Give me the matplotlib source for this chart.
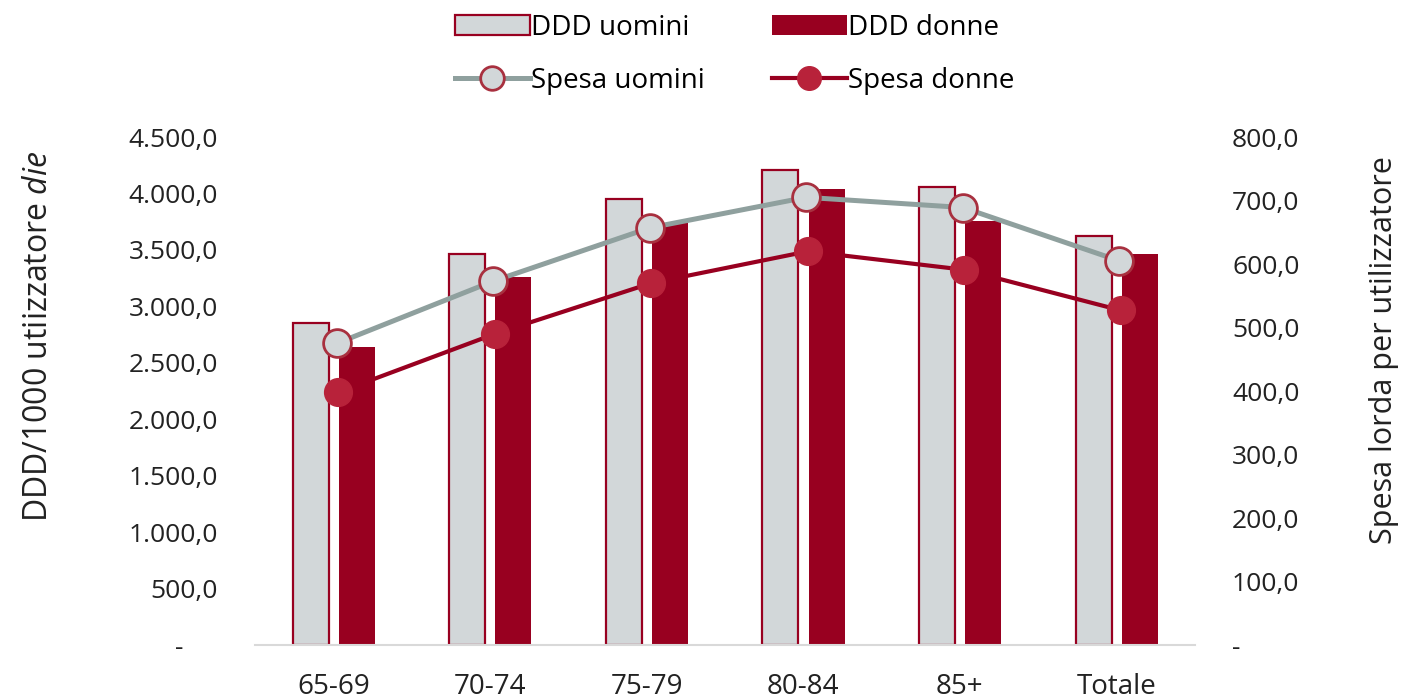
import numpy as np
import matplotlib.pyplot as plt
from matplotlib.ticker import FuncFormatter

plt.rcParams['font.family'] = ['Open Sans', 'DejaVu Sans']
plt.rcParams['mathtext.fontset'] = 'custom'
plt.rcParams['mathtext.rm'] = 'Open Sans'
plt.rcParams['mathtext.it'] = 'Open Sans:italic'

categories = ['65-69', '70-74', '75-79', '80-84', '85+', 'Totale']
ddd_uomini = [2850, 3460, 3950, 4210, 4060, 3620]
ddd_donne = [2640, 3260, 3740, 4040, 3760, 3460]
spesa_uomini = [475, 573, 657, 705, 689, 605]
spesa_donne = [398, 490, 570, 620, 591, 527]

dark_red = '#980020'
light_grey = '#D2D7D9'
line_grey = '#8FA09E'

fig = plt.figure(figsize=(14.02, 6.99), dpi=100)
ax = fig.add_axes([0.182, 0.077, 0.670, 0.727])
ax2 = ax.twinx()

x = np.arange(len(categories))
w = 0.23
b1 = ax.bar(x - 0.145, ddd_uomini, w, color=light_grey, edgecolor=dark_red,
            linewidth=1.6, label='DDD uomini')
b2 = ax.bar(x + 0.15, ddd_donne, w, color=dark_red, label='DDD donne')

l1, = ax2.plot(x + 0.02, spesa_uomini, '-o', color=line_grey, lw=3.6,
               markersize=20, markerfacecolor=light_grey,
               markeredgecolor='#A8303F', markeredgewidth=2,
               label='Spesa uomini', zorder=4)
l2, = ax2.plot(x + 0.03, spesa_donne, '-o', color=dark_red, lw=3,
               markersize=20, markerfacecolor='#B8223A',
               markeredgecolor='#B8223A', label='Spesa donne', zorder=3)

ax.set_xlim(-0.5, 5.5)
ax.set_ylim(0, 4500)
ax2.set_ylim(0, 800)
ax.set_yticks(np.arange(0, 4501, 500))
ax2.set_yticks(np.arange(0, 801, 100))


def it_fmt(v, pos):
    if v == 0:
        return '-     '
    s = '{:,.1f}'.format(v)
    return s.replace(',', 'X').replace('.', ',').replace('X', '.')


def it_fmt2(v, pos):
    if v == 0:
        return '-'
    return '{:.1f}'.format(v).replace('.', ',')


ax.yaxis.set_major_formatter(FuncFormatter(it_fmt))
ax2.yaxis.set_major_formatter(FuncFormatter(it_fmt2))
ax.set_xticks(x)
ax.set_xticklabels(categories)

for a in (ax, ax2):
    for s in a.spines.values():
        s.set_visible(False)
    a.tick_params(length=0, labelsize=19, colors='#222222')
ax.spines['bottom'].set_visible(True)
ax.spines['bottom'].set_color('#D9D9D9')
ax.spines['bottom'].set_linewidth(1.5)
ax.tick_params(axis='y', pad=27)
ax2.tick_params(axis='y', pad=27)
ax.tick_params(axis='x', pad=20, labelsize=20)

ax.set_ylabel('DDD/1000 utiizzatore $\\mathit{die}$', fontsize=23, color='#222222')
ax.yaxis.set_label_coords(-0.213, 0.607)
ax2.set_ylabel('Spesa lorda per utilizzatore', fontsize=22, color='#222222',
               rotation=90)
ax2.yaxis.set_label_coords(1.186, 0.581)

fig.legend([b1, l1, b2, l2],
           ['DDD uomini', 'Spesa uomini', 'DDD donne', 'Spesa donne'],
           ncol=2, loc='upper center', bbox_to_anchor=(0.524, 1.016),
           frameon=False, fontsize=20, handlelength=2.7, handletextpad=0.05,
           columnspacing=2.4, labelspacing=0.9, markerscale=0.85)

fig.savefig('out.png', dpi=100)
